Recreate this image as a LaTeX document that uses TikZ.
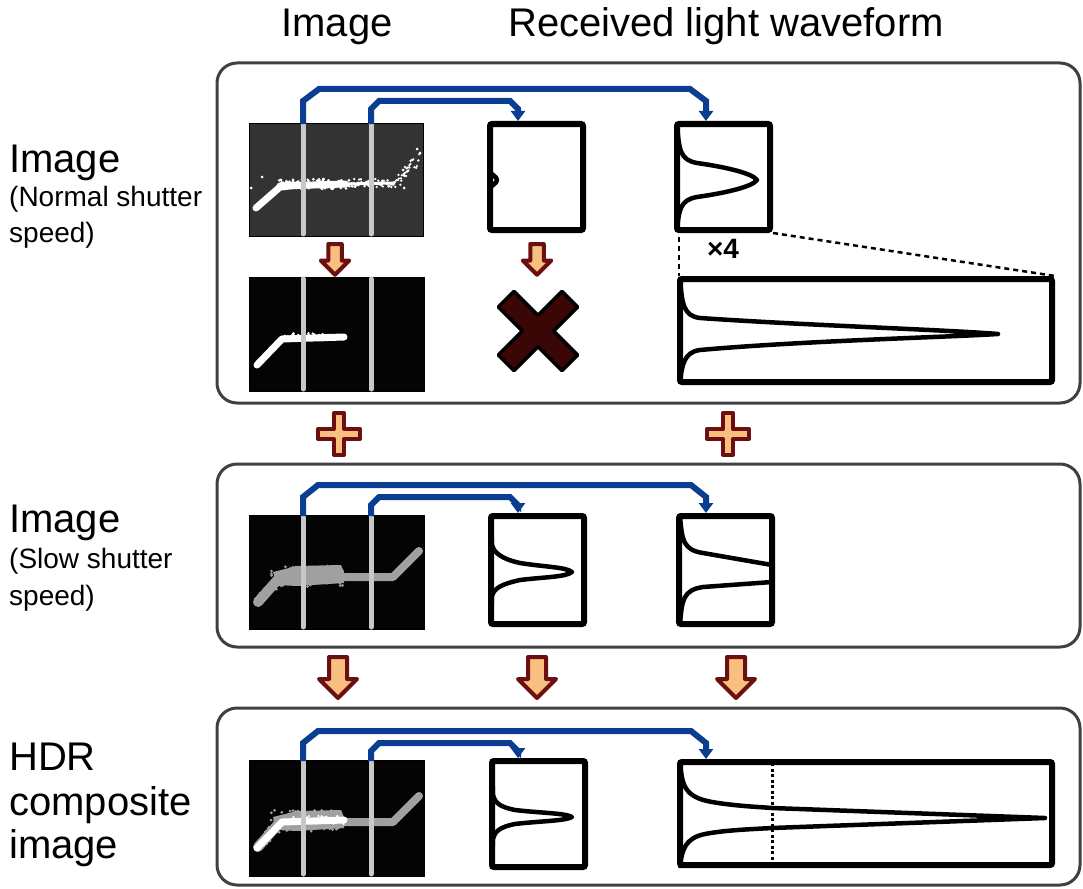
\documentclass[tikz,border=0pt]{standalone}
\usepackage{fontspec}
\setmainfont{Liberation Sans}
\usetikzlibrary{arrows.meta}
\definecolor{panelgray}{RGB}{64,64,64}
\definecolor{connblue}{RGB}{11,61,145}
\definecolor{arrfill}{RGB}{249,191,128}
\definecolor{arrline}{RGB}{107,15,16}
\definecolor{xfill}{RGB}{58,6,6}
\definecolor{imgdark}{RGB}{51,51,51}
\definecolor{imgblack}{RGB}{4,4,4}
\definecolor{sigray}{RGB}{160,160,160}
\definecolor{vlinegray}{RGB}{200,200,200}
\newcommand{\myBig}{\fontsize{40}{44}\selectfont}
\newcommand{\mySmall}{\fontsize{28}{32}\selectfont}
\newcommand{\myXf}{\bfseries\fontsize{28}{30}\selectfont}
\begin{document}
\begin{tikzpicture}[x=1pt,y=-1pt,
 panel/.style={draw=panelgray, line width=3, rounded corners=20},
 imgbox/.style={draw=black, line width=1.2, inner sep=0, minimum width=175, minimum height=114},
 wbox/.style={draw=black, line width=6, rounded corners=2, inner sep=0, fill=white},
 wave/.style={black, line width=4.5, line cap=round, line join=round},
 vline/.style={vlinegray, line width=5, line cap=round},
 conn/.style={connblue, line width=6, line join=miter, -{Triangle[width=14pt,length=10pt]}},
 blockarr/.style={fill=arrfill, draw=arrline, line width=4, line join=round},
 lab/.style={anchor=base west, inner sep=0, font=\myBig},
 sublab/.style={anchor=base west, inner sep=0, font=\mySmall},
 dsh/.style={black, line width=2.5, dash pattern=on 5pt off 4pt},
 bigdown/.pic={\path[blockarr] (-9,0) -- (9,0) -- (9,22) -- (19,22) -- (0,41) -- (-19,22) -- (-9,22) -- cycle;},
 plussign/.pic={\path[blockarr] (-5,-21) -- (5,-21) -- (5,-5) -- (21,-5) -- (21,5) -- (5,5) -- (5,21) -- (-5,21) -- (-5,5) -- (-21,5) -- (-21,-5) -- (-5,-5) -- cycle;},
 xmark/.pic={\path[fill=xfill, draw=black, line width=3.5, line join=round, rotate=45] (-11,-45) -- (11,-45) -- (11,-11) -- (45,-11) -- (45,11) -- (11,11) -- (11,45) -- (-11,45) -- (-11,11) -- (-45,11) -- (-45,-11) -- (-11,-11) -- cycle;},
 brightsig/.pic={
   \draw[white, line width=7, line cap=round, line join=round] (7,85) -- (31,64) -- (50,62);
   \draw[white, line width=7, line cap=round] (31,63) -- (96,61);
   \draw[white, line width=3] (96,61) -- (146,60);
   \foreach \i in {1,...,80} {\pgfmathsetmacro\xx{30+68*rnd}\pgfmathsetmacro\yy{61+5*rand}\fill[white] (\xx,\yy) circle (1.5);}
   \foreach \i in {1,...,55} {\pgfmathsetmacro\xx{96+52*rnd}\pgfmathsetmacro\yy{60+4*rand}\fill[white] (\xx,\yy) circle (1.3);}
   \foreach \i in {1,...,30} {\pgfmathsetmacro\myt{rnd}\pgfmathsetmacro\xx{145+25*\myt+4*rand}\pgfmathsetmacro\yy{60-26*\myt+5*rand}\fill[white] (\xx,\yy) circle (1.3);}
   \foreach \p in {(13,54),(2,65),(171,30),(163,37),(154,47),(155,65),(168,26)} {\fill[white] \p circle (1.5);}
 },
 whitesig/.pic={
   \draw[white, line width=7, line cap=round, line join=round] (8,88) -- (33,62) -- (95,60);
   \foreach \i in {1,...,45} {\pgfmathsetmacro\xx{33+62*rnd}\pgfmathsetmacro\yy{60+4*rand}\fill[white] (\xx,\yy) circle (1.3);}
 },
 graysig/.pic={
   \draw[sigray, line width=10, line cap=round] (9,87) -- (31,62);
   \fill[sigray] (24,57) -- (48,51) -- (92,50) -- (95,57) -- (95,68) -- (48,71) -- (28,70) -- cycle;
   \draw[sigray, line width=8, line cap=round, line join=round] (90,62) -- (144,62) -- (170,36);
   \foreach \i in {1,...,80} {\pgfmathsetmacro\xx{22+72*rnd}\pgfmathsetmacro\yy{61+11*rand}\fill[sigray] (\xx,\yy) circle (1.5);}
   \foreach \i in {1,...,40} {\pgfmathsetmacro\myt{rnd}\pgfmathsetmacro\xx{9+22*\myt+5*rand}\pgfmathsetmacro\yy{87-25*\myt+5*rand}\fill[sigray] (\xx,\yy) circle (1.5);}
 },
]
\pgfmathsetseed{7}
\useasboundingbox (0,0) rectangle (1083,888);

% panels
\draw[panel] (217,63) rectangle (1080,403);
\draw[panel] (217,464) rectangle (1080,647);
\draw[panel] (217,708) rectangle (1080,885);

% headers
\node[anchor=base, inner sep=0, font=\myBig] (h1) at (337,37) {Image};
\node[anchor=base, inner sep=0, font=\myBig] (h2) at (726,37) {Received light waveform};

% left labels
\node[lab] (l1) at (9,172) {Image};
\node[sublab] (l1s) at (9,206) {(Normal shutter};
\node[sublab] (l1t) at (9,242) {speed)};
\node[lab] (l2) at (9,532) {Image};
\node[sublab] (l2s) at (9,568) {(Slow shutter};
\node[sublab] (l2t) at (9,605) {speed)};
\node[lab] (l3) at (9,770) {HDR};
\node[lab] (l3s) at (9,815) {composite};
\node[lab] (l3t) at (9,858) {image};

% images
\node[imgbox, fill=imgdark, minimum width=174, minimum height=113] (i1a) at (336.5,180) {};
\pic at (249,123) {brightsig};
\node[imgbox, fill=imgblack] (i1b) at (337,334.5) {};
\pic at (249,277) {whitesig};
\node[imgbox, fill=imgblack] (i2) at (337,572.5) {};
\pic at (249,515) {graysig};
\node[imgbox, fill=imgblack, minimum height=116] (i3) at (337,818.5) {};
\pic at (249,760) {graysig};
\pic at (249,760) {whitesig};

% gray lines in the images
\foreach \yt/\yb in {124/234, 279/389, 517/627, 762/874} {
  \draw[vline] (303,\yt) -- (303,\yb);
  \draw[vline] (371,\yt) -- (371,\yb);
}

% waveform boxes
\node[wbox, minimum width=93, minimum height=106] (w1a) at (536.5,177) {};
\node[wbox, minimum width=93, minimum height=106] (w1b) at (723.5,177) {};
\node[wbox, minimum width=372, minimum height=103] (w1c) at (866,330.5) {};
\node[wbox, minimum width=93, minimum height=108] (w2a) at (537.5,570) {};
\node[wbox, minimum width=93, minimum height=108] (w2b) at (725.5,570) {};
\node[wbox, minimum width=93, minimum height=106] (w3a) at (538.5,814) {};
\node[wbox, minimum width=372, minimum height=103] (w3b) at (866,813.5) {};

% waveforms
\draw[wave] (490,124) -- (490,170) .. controls (491,176) and (497,176) .. (497,180) .. controls (497,184) and (491,184) .. (490,190) -- (490,230);
\draw[wave] (677,124) .. controls (679,150) and (680,160) .. (697,163) .. controls (725,167) and (752,173) .. (757,180) .. controls (752,187) and (725,193) .. (697,197) .. controls (680,200) and (679,210) .. (677,230);
\draw[wave] (680,279) .. controls (682,305) and (684,316) .. (700,318) .. controls (800,325) and (950,330) .. (998,334) .. controls (950,337) and (800,341) .. (700,350) .. controls (684,352) and (682,365) .. (680,382);
\draw[wave] (491,516) -- (492,545) .. controls (494,553) and (502,559) .. (520,563) .. controls (545,567) and (566,567) .. (572,572) .. controls (566,577) and (545,577) .. (520,580) .. controls (502,584) and (494,588) .. (492,596) -- (491,624);
\draw[wave] (680,516) .. controls (682,540) and (683,550) .. (703,553) -- (772,565);
\draw[wave] (772,582) -- (703,587) .. controls (683,590) and (682,600) .. (680,624);
\draw[wave] (492,761) -- (493,795) .. controls (495,803) and (500,807) .. (515,810) .. controls (540,813) and (565,813) .. (572,817) .. controls (565,821) and (540,821) .. (515,824) .. controls (500,827) and (495,831) .. (493,839) -- (492,867);
\draw[wave] (680,762) .. controls (682,785) and (684,797) .. (712,802) .. controls (735,806) and (760,807) .. (772,808) -- (1045,818) -- (772,828) .. controls (755,829) and (725,830) .. (705,834) .. controls (685,838) and (682,850) .. (680,866);
\draw[black, line width=3, dash pattern=on 3pt off 2.5pt] (772,763) -- (772,865);

% connectors
\coordinate (xA) at (518,0);
\coordinate (xB) at (706,0);
\coordinate (c1a) at (303,124);
\coordinate (c1b) at (371,124);
\coordinate (c2a) at (303,516);
\coordinate (c2b) at (371,516);
\coordinate (c3a) at (303,761);
\coordinate (c3b) at (371,761);
\draw[conn] (c1a) -- (303,101) -- (319,89) -- (690,89) -- (706,101) -- (w1b.north -| xB);
\draw[conn] (c1b) -- (371,109) -- (379,101) -- (510,101) -- (518,109) -- (w1a.north -| xA);
\draw[conn] (c2a) -- (303,497) -- (318,485) -- (691,485) -- (706,497) -- (w2b.north -| xB);
\draw[conn] (c2b) -- (371,505) -- (379,497) -- (510,497) -- (518,505) -- (w2a.north -| xA);
\draw[conn] (c3a) -- (303,743) -- (318,731) -- (691,731) -- (706,743) -- (w3b.north -| xB);
\draw[conn] (c3b) -- (371,751) -- (379,743) -- (510,743) -- (518,751) -- (w3a.north -| xA);

% zoom indication
\coordinate (xd) at (679,0);
\draw[dsh] (w1b.south -| xd) ++(0,4) -- (w1c.north -| xd);
\draw[dsh] (w1b.south east) -- (w1c.north east);
\node[anchor=base, inner sep=0, font=\myXf] (x4) at (723,258) {×4};

% block arrows, plus signs, cross
\pic[scale=0.75] at (335,244) {bigdown};
\pic[scale=0.75] at (537,244) {bigdown};
\pic at (339,434) {plussign};
\pic at (728,434) {plussign};
\pic at (538,331) {xmark};
\pic at (338,657) {bigdown};
\pic at (537,657) {bigdown};
\pic at (736,657) {bigdown};
\end{tikzpicture}
\end{document}
